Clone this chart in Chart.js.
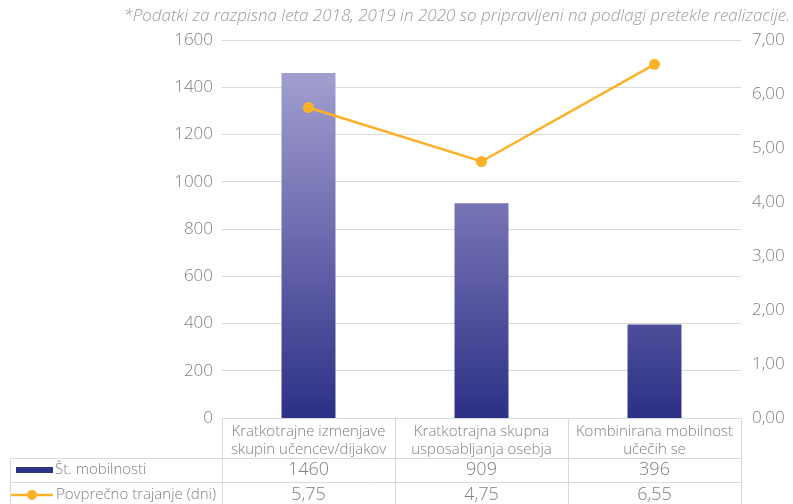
<!DOCTYPE html>
<html>
<head>
<meta charset="utf-8">
<script src="https://cdn.jsdelivr.net/npm/chart.js@4/dist/chart.umd.min.js"></script>
<style>
html,body{margin:0;padding:0;background:#fff;}
#wrap{position:relative;width:793px;height:504px;}
</style>
</head>
<body>
<div id="wrap"><canvas id="c" width="793" height="504"></canvas></div>
<script>
const categories = [
  ["Kratkotrajne izmenjave", "skupin učencev/dijakov"],
  ["Kratkotrajna skupna", "usposabljanja osebja"],
  ["Kombinirana mobilnost", "učečih se"]
];
const mobilityCounts = [1460, 909, 396];
const avgDuration = [5.75, 4.75, 6.55];
const seriesNames = ["Št. mobilnosti", "Povprečno trajanje (dni)"];
const noteText = "*Podatki za razpisna leta 2018, 2019 in 2020 so pripravljeni na podlagi pretekle realizacije.";

const FONT = "'Open Sans', sans-serif";
const GREY = '#7f7f7f';
const NAVY = '#2e3286';
const ORANGE = '#fbb128';
const BORDER = '#d9d9d9';

function fmtComma(v, d) { return v.toFixed(d).replace('.', ','); }

const tablePlugin = {
  id: 'tablePlugin',
  afterDraw(chart) {
    const ctx = chart.ctx;
    const area = chart.chartArea;
    const xs = chart.scales.x;
    const n = categories.length;
    const step = (area.right - area.left) / n;
    const top = area.bottom;
    const r1 = top + 40, r2 = r1 + 24, r3 = r2 + 24;
    const tableLeft = 10;
    ctx.save();
    // note title
    ctx.font = "italic 300 17px " + FONT;
    ctx.fillStyle = '#9a9a9a';
    ctx.textAlign = 'right';
    ctx.textBaseline = 'middle';
    ctx.fillText(noteText, 790, 16);

    ctx.strokeStyle = BORDER;
    ctx.lineWidth = 1;
    const hl = (x1, x2, y) => { ctx.beginPath(); ctx.moveTo(x1, y + 0.5); ctx.lineTo(x2, y + 0.5); ctx.stroke(); };
    const vl = (x, y1, y2) => { ctx.beginPath(); ctx.moveTo(x + 0.5, y1); ctx.lineTo(x + 0.5, y2); ctx.stroke(); };
    hl(area.left, area.right, top);
    hl(tableLeft, area.right, r1);
    hl(tableLeft, area.right, r2);
    hl(tableLeft, area.right, r3 + 30);
    vl(tableLeft, r1, 510);
    for (let i = 0; i <= n; i++) vl(Math.round(area.left + i * step), top, 510);

    ctx.fillStyle = GREY;
    ctx.textAlign = 'center';
    ctx.textBaseline = 'middle';
    ctx.font = "300 15px " + FONT;
    for (let i = 0; i < n; i++) {
      const cx = xs.getPixelForValue(i);
      ctx.fillText(categories[i][0], cx, top + 14);
      ctx.fillText(categories[i][1], cx, top + 32);
      ctx.font = "300 18px " + FONT;
      ctx.fillText(String(mobilityCounts[i]), cx, r1 + 12);
      ctx.fillText(fmtComma(avgDuration[i], 2), cx, r2 + 13);
      ctx.font = "300 15px " + FONT;
    }
    // legend keys
    ctx.fillStyle = NAVY;
    ctx.fillRect(16, r1 + 9, 37, 6);
    ctx.strokeStyle = ORANGE;
    ctx.lineWidth = 2.5;
    ctx.beginPath(); ctx.moveTo(11, r2 + 13); ctx.lineTo(53, r2 + 13); ctx.stroke();
    ctx.fillStyle = ORANGE;
    ctx.beginPath(); ctx.arc(32, r2 + 13, 5, 0, Math.PI * 2); ctx.fill();
    ctx.fillStyle = GREY;
    ctx.textAlign = 'left';
    ctx.font = "300 15px " + FONT;
    ctx.fillText(seriesNames[0], 55, r1 + 12);
    ctx.fillText(seriesNames[1], 56, r2 + 13);
    ctx.restore();
  }
};

function barGradient(context) {
  const chart = context.chart;
  const a = chart.chartArea;
  if (!a) return NAVY;
  const g = chart.ctx.createLinearGradient(0, a.top, 0, a.bottom);
  g.addColorStop(0, '#aca9d6');
  g.addColorStop(0.5, '#6f6cb0');
  g.addColorStop(1, '#2c3085');
  return g;
}

new Chart(document.getElementById('c'), {
  type: 'bar',
  data: {
    labels: categories,
    datasets: [
      {
        type: 'line',
        label: seriesNames[1],
        data: avgDuration,
        yAxisID: 'y1',
        borderColor: ORANGE,
        backgroundColor: ORANGE,
        borderWidth: 2.5,
        pointRadius: 5.5,
        pointHoverRadius: 5.5,
        pointBorderWidth: 0,
        tension: 0,
        order: 0
      },
      {
        type: 'bar',
        label: seriesNames[0],
        data: mobilityCounts,
        yAxisID: 'y',
        backgroundColor: barGradient,
        categoryPercentage: 1,
        barPercentage: 0.312,
        order: 1
      }
    ]
  },
  options: {
    responsive: false,
    animation: false,
    devicePixelRatio: 1,
    layout: { padding: { top: 40, bottom: 86, left: 0, right: 0 } },
    plugins: { legend: { display: false }, tooltip: { enabled: false }, title: { display: false } },
    scales: {
      x: { display: false, offset: true },
      y: {
        position: 'left',
        min: 0, max: 1600,
        ticks: { stepSize: 200, color: GREY, font: { family: FONT, size: 17, weight: 300 }, padding: 9,
          callback: v => String(v) },
        grid: { color: BORDER, drawTicks: false, lineWidth: ctx => ctx.tick && ctx.tick.value === 0 ? 0 : 1 },
        border: { display: false },
        afterFit(s) { s.width = 222; }
      },
      y1: {
        position: 'right',
        min: 0, max: 7,
        ticks: { stepSize: 1, color: GREY, font: { family: FONT, size: 17, weight: 300 }, padding: 11,
          callback: v => fmtComma(v, 2) },
        grid: { display: false, drawTicks: false },
        border: { display: false },
        afterFit(s) { s.width = 52; }
      }
    }
  },
  plugins: [tablePlugin]
});
</script>
</body>
</html>
